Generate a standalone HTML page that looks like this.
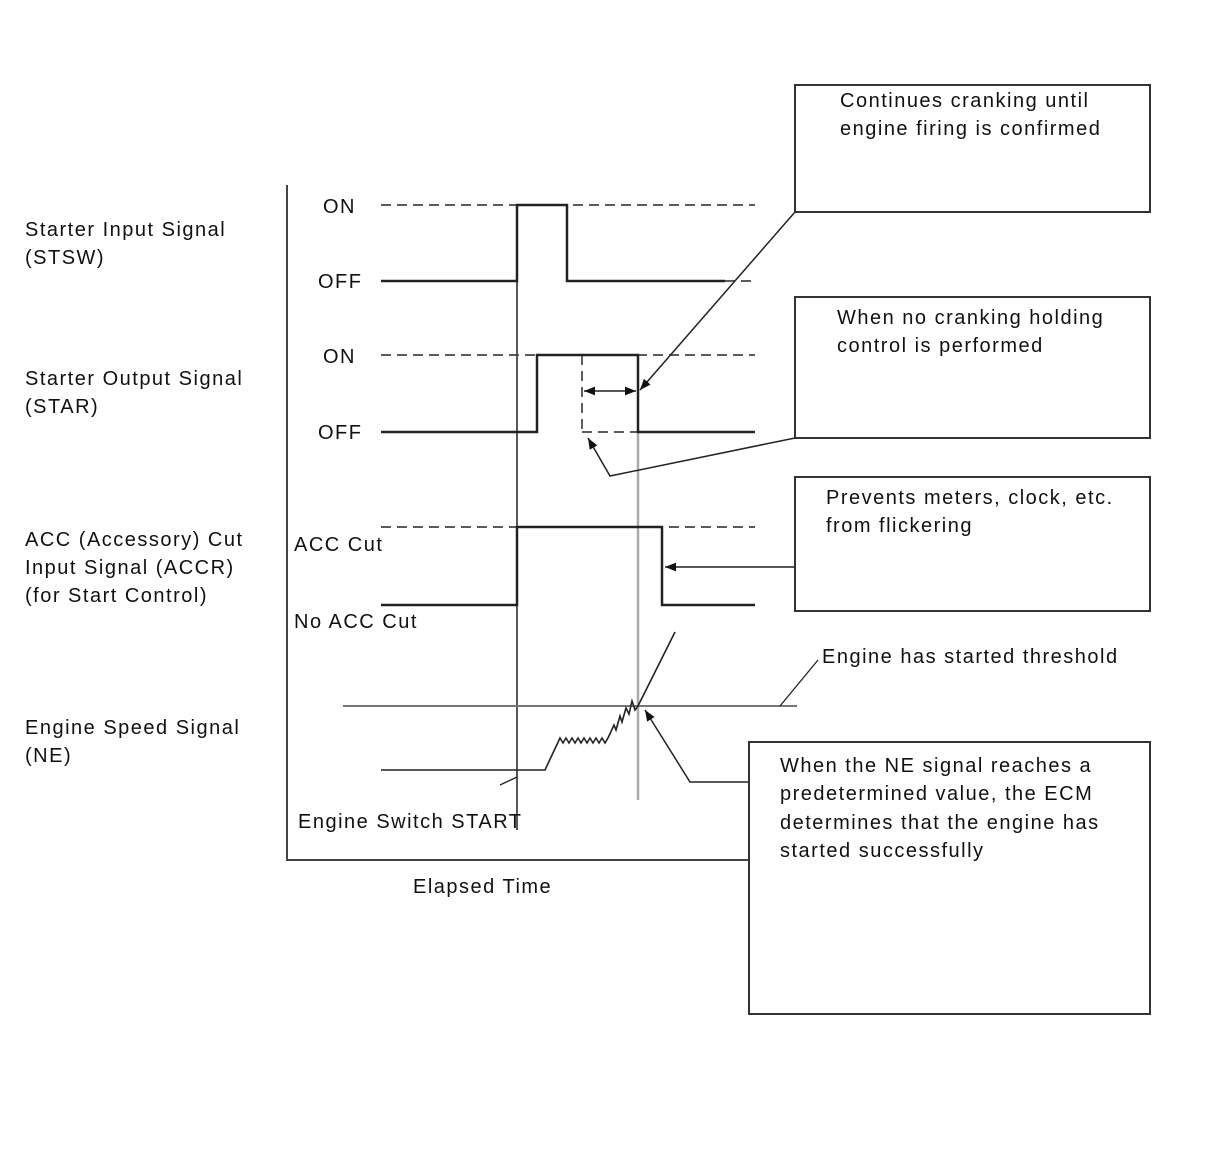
<!DOCTYPE html>
<html><head><style>
html,body{margin:0;padding:0;background:#fff;}
svg{display:block;}
text{font-family:"Liberation Sans",Arial,sans-serif;font-size:20px;fill:#111;letter-spacing:1.5px;}
</style></head><body>
<svg width="1208" height="1154" viewBox="0 0 1208 1154">
<defs>
<marker id="ah" viewBox="0 0 10 10" refX="10" refY="5" markerWidth="16" markerHeight="11" orient="auto" markerUnits="userSpaceOnUse"><path d="M0,1 L10,5 L0,9 z" fill="#111"/></marker>
</defs>
<g fill="none" stroke-linecap="butt">
<path d="M287 185 V860 H749" stroke="#444" stroke-width="2"/>
<line x1="517" y1="205" x2="517" y2="830" stroke="#222" stroke-width="1.5"/>
<line x1="638" y1="432" x2="638" y2="800" stroke="#aaa" stroke-width="2.5"/>
<g stroke="#444" stroke-width="1.7" stroke-dasharray="10,6">
<line x1="381" y1="205" x2="755" y2="205"/>
<line x1="381" y1="355" x2="755" y2="355"/>
<line x1="381" y1="527" x2="755" y2="527"/>
<line x1="725" y1="281" x2="755" y2="281"/>
<line x1="582" y1="355" x2="582" y2="432"/>
<line x1="582" y1="432" x2="638" y2="432"/>
</g>
<g stroke="#222" stroke-width="2.5">
<path d="M381 281 H517 V205 H567 V281 H725"/>
<path d="M381 432 H537 V355 H638 V432 H755"/>
<path d="M381 605 H517 V527 H662 V605 H755"/>
</g>
<line x1="343" y1="706" x2="797" y2="706" stroke="#777" stroke-width="2"/>
<line x1="780" y1="706" x2="818" y2="660" stroke="#222" stroke-width="1.3"/>
<path d="M381 770 H545 L560 738 L563 743 L566 738 L569 743 L572 738 L575 743 L578 738 L581 743 L584 738 L587 743 L590 738 L593 743 L596 738 L599 743 L602 738 L605 743 L608 738 L614 725 L616 730 L620 716 L622 722 L626 708 L629 714 L632 701 L635 710 L638 706 L675 632" stroke="#222" stroke-width="1.6"/>
<line x1="500" y1="785" x2="517" y2="777" stroke="#222" stroke-width="1.3"/>
<g stroke="#333" stroke-width="2">
<rect x="795" y="85" width="355" height="127"/>
<rect x="795" y="297" width="355" height="141"/>
<rect x="795" y="477" width="355" height="134"/>
<rect x="749" y="742" width="401" height="272"/>
</g>
<g stroke="#222" stroke-width="1.5">
<line x1="795" y1="212" x2="640" y2="390" marker-end="url(#ah)"/>
<polyline points="795,438 610,476 588,438" marker-end="url(#ah)"/>
<line x1="795" y1="567" x2="665" y2="567" marker-end="url(#ah)"/>
<polyline points="749,782 690,782 645,710" marker-end="url(#ah)"/>
<line x1="610" y1="391" x2="584" y2="391" marker-end="url(#ah)"/>
<line x1="610" y1="391" x2="636" y2="391" marker-end="url(#ah)"/>
</g>
</g>
<text x="25" y="236">Starter Input Signal</text>
<text x="25" y="264">(STSW)</text>
<text x="25" y="385">Starter Output Signal</text>
<text x="25" y="413">(STAR)</text>
<text x="25" y="546">ACC (Accessory) Cut</text>
<text x="25" y="574">Input Signal (ACCR)</text>
<text x="25" y="602">(for Start Control)</text>
<text x="25" y="734">Engine Speed Signal</text>
<text x="25" y="762">(NE)</text>
<text x="323" y="213">ON</text>
<text x="318" y="288">OFF</text>
<text x="323" y="363">ON</text>
<text x="318" y="439">OFF</text>
<text x="294" y="551">ACC Cut</text>
<text x="294" y="628">No ACC Cut</text>
<text x="298" y="828">Engine Switch START</text>
<text x="413" y="893">Elapsed Time</text>
<text x="822" y="663">Engine has started threshold</text>
<text x="840" y="107">Continues cranking until</text>
<text x="840" y="135">engine firing is confirmed</text>
<text x="837" y="324">When no cranking holding</text>
<text x="837" y="352">control is performed</text>
<text x="826" y="504">Prevents meters, clock, etc.</text>
<text x="826" y="532">from flickering</text>
<text x="780" y="772">When the NE signal reaches a</text>
<text x="780" y="800">predetermined value, the ECM</text>
<text x="780" y="829">determines that the engine has</text>
<text x="780" y="857">started successfully</text>
</svg>
</body></html>
